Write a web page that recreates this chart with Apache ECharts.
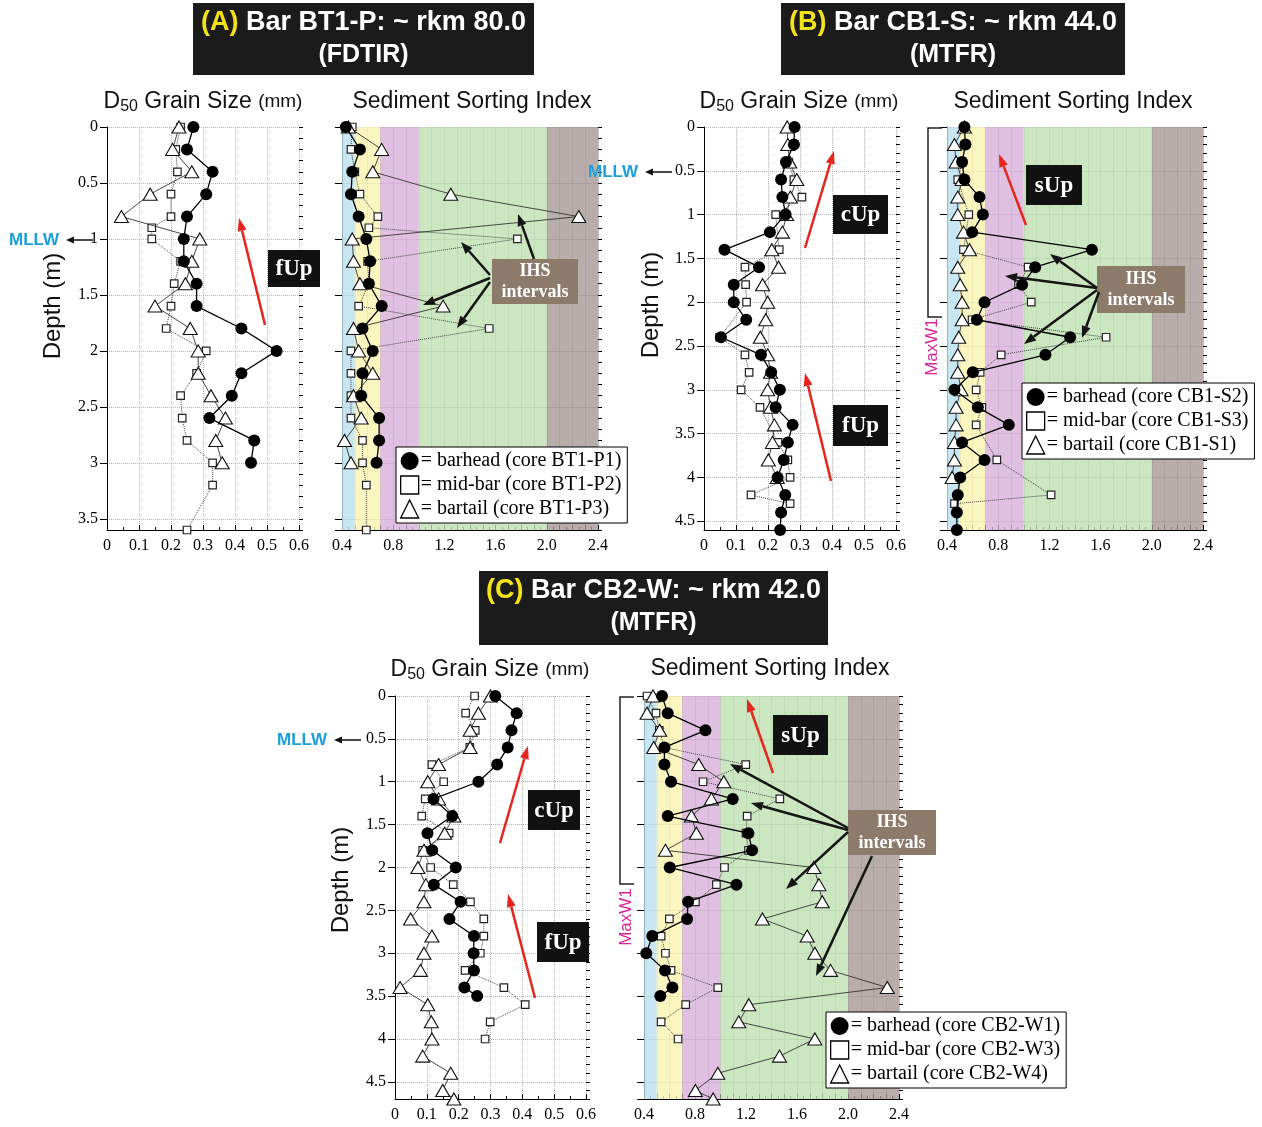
<!DOCTYPE html>
<html><head><meta charset="utf-8">
<script src="https://cdn.jsdelivr.net/npm/echarts@6/dist/echarts.min.js"></script>
<style>html,body{margin:0;padding:0;background:#fff}#c{width:1262px;height:1127px}</style>
</head><body><div id="c"></div>
<script>
// ---------------- DATA ----------------
// Panel A : Bar BT1-P
const A_head_depth = [0,0.2,0.4,0.6,0.8,1.0,1.2,1.4,1.6,1.8,2.0,2.2,2.4,2.6,2.8,3.0];
const A_head_d50   = [0.27,0.25,0.33,0.31,0.25,0.24,0.24,0.28,0.28,0.42,0.53,0.42,0.39,0.32,0.46,0.45];
const A_head_sort  = [0.43,0.54,0.48,0.47,0.53,0.59,0.62,0.61,0.71,0.56,0.64,0.56,0.55,0.69,0.69,0.67];
const A_mid_depth  = [0,0.2,0.4,0.6,0.8,0.9,1.0,1.2,1.4,1.6,1.8,2.0,2.2,2.4,2.6,2.8,3.0,3.2,3.6];
const A_mid_d50    = [0.23,0.215,0.22,0.2,0.2,0.14,0.14,0.23,0.21,0.2,0.185,0.31,0.28,0.23,0.235,0.25,0.33,0.33,0.25];
const A_mid_sort   = [0.48,0.47,0.5,0.54,0.68,0.61,1.77,0.6,0.61,0.53,1.55,0.47,0.47,0.47,0.47,0.56,0.56,0.59,0.59];
const A_tail_depth = [0,0.2,0.4,0.6,0.8,1.0,1.2,1.4,1.6,1.8,2.0,2.2,2.4,2.6,2.8,3.0];
const A_tail_d50   = [0.225,0.205,0.265,0.135,0.045,0.29,0.265,0.245,0.15,0.26,0.285,0.285,0.325,0.37,0.34,0.36];
const A_tail_sort  = [0.45,0.71,0.64,1.25,2.25,0.48,0.49,0.54,1.19,0.49,0.53,0.64,0.49,0.55,0.42,0.47];

// Panel B : Bar CB1-S
const B_head_depth = [0,0.2,0.4,0.6,0.8,1.0,1.2,1.4,1.6,1.8,2.0,2.2,2.4,2.6,2.8,3.0,3.2,3.4,3.6,3.8,4.0,4.2,4.4,4.6];
const B_head_d50   = [0.283,0.281,0.256,0.241,0.245,0.255,0.206,0.064,0.172,0.093,0.093,0.132,0.053,0.178,0.21,0.237,0.224,0.277,0.262,0.249,0.23,0.254,0.241,0.238];
const B_head_sort  = [0.536,0.544,0.518,0.536,0.654,0.68,0.597,1.532,1.089,0.987,0.693,0.633,1.362,1.169,0.602,0.458,0.641,0.883,0.518,0.693,0.503,0.484,0.477,0.477];
const B_mid_depth_d50 = [0.4,0.6,0.8,1.0,1.4,1.6,1.8,2.0,2.4,2.6,2.8,3.0,3.2,3.6,3.8,4.0,4.2,4.3];
const B_mid_d50       = [0.265,0.281,0.306,0.224,0.235,0.128,0.13,0.133,0.049,0.128,0.141,0.116,0.175,0.231,0.262,0.269,0.147,0.269];
const B_mid_depth_sort = [0.4,0.6,1.0,1.4,1.6,1.8,2.0,2.2,2.4,2.6,2.8,3.0,3.2,3.4,3.8,4.2,4.3];
const B_mid_sort       = [0.518,0.484,0.57,0.529,1.034,0.959,1.058,0.596,1.643,0.823,0.659,0.628,0.672,0.628,0.789,1.213,0.458];
const B_tail_depth = [0,0.2,0.4,0.6,0.8,1.0,1.2,1.4,1.6,1.8,2.0,2.2,2.4,2.6,2.8,3.0,3.2,3.4,3.6,3.8,4.0];
const B_tail_d50   = [0.26,0.262,0.268,0.29,0.27,0.258,0.245,0.212,0.233,0.183,0.199,0.193,0.176,0.199,0.208,0.199,0.208,0.22,0.214,0.201,0.229];
const B_tail_sort  = [0.536,0.458,0.471,0.518,0.484,0.484,0.529,0.576,0.484,0.503,0.518,0.518,0.492,0.484,0.484,0.51,0.471,0.471,0.458,0.458,0.44];

// Panel C : Bar CB2-W
const C_head_depth = [0,0.2,0.4,0.6,0.8,1.0,1.2,1.4,1.6,1.8,2.0,2.2,2.4,2.6,2.8,3.0,3.2,3.4,3.5];
const C_head_d50   = [0.315,0.382,0.366,0.354,0.321,0.262,0.121,0.18,0.102,0.117,0.191,0.122,0.206,0.171,0.248,0.247,0.248,0.218,0.258];
const C_head_sort  = [0.541,0.586,0.882,0.56,0.56,0.612,1.096,0.586,1.219,1.248,0.602,1.125,0.746,0.738,0.465,0.418,0.565,0.623,0.528];
const C_mid_depth  = [0,0.2,0.4,0.6,0.8,1.0,1.2,1.4,1.6,1.8,2.0,2.2,2.4,2.6,2.8,3.0,3.2,3.4,3.6,3.8,4.0];
const C_mid_d50    = [0.25,0.222,0.252,0.235,0.116,0.153,0.095,0.084,0.17,0.087,0.112,0.183,0.237,0.279,0.279,0.268,0.22,0.342,0.409,0.299,0.283];
const C_mid_sort   = [0.424,0.494,0.52,0.56,1.198,0.863,1.465,1.209,1.2,1.22,1.031,0.968,0.803,0.599,0.534,0.568,0.612,0.979,0.727,0.534,0.667];
const C_tail_depth = [0,0.2,0.4,0.6,0.8,1.0,1.2,1.4,1.6,1.8,2.0,2.2,2.4,2.6,2.8,3.0,3.2,3.4,3.6,3.8,4.0,4.2,4.4,4.6,4.7];
const C_tail_d50   = [0.30,0.262,0.236,0.236,0.137,0.103,0.137,0.185,0.156,0.091,0.072,0.097,0.091,0.049,0.116,0.091,0.08,0.016,0.103,0.114,0.116,0.087,0.175,0.15,0.185];
const C_tail_sort  = [0.471,0.424,0.523,0.476,0.829,1.026,0.929,0.772,0.811,0.568,1.732,1.772,1.798,1.329,1.68,1.74,1.863,2.308,1.222,1.143,1.74,1.463,0.979,0.803,0.942];

const A_names = ['barhead (core BT1-P1)','mid-bar (core BT1-P2)','bartail (core BT1-P3)'];
const B_names = ['barhead (core CB1-S2)','mid-bar (core CB1-S3)','bartail (core CB1-S1)'];
const C_names = ['barhead (core CB2-W1)','mid-bar (core CB2-W3)','bartail (core CB2-W4)'];

// Sorting-class bands (sorting index limits)
const band_edges  = [0.4,0.5,0.7,1.0,2.0,2.4];
const band_colors = ['rgba(186,224,238,0.8)','rgba(250,243,176,0.8)','rgba(216,176,216,0.8)','rgba(190,224,176,0.8)','rgba(166,152,150,0.8)'];

const depth_max = [3.6,3.6,4.6,4.6,4.7,4.7];

// ---------------- LAYOUT ----------------
const grids = [
  {left:107, top:127, width:192, height:403},
  {left:342, top:127, width:256, height:403},
  {left:704, top:127, width:192, height:403},
  {left:947, top:127, width:256, height:403},
  {left:395, top:696, width:191, height:403},
  {left:644, top:696, width:255, height:403}
];
const SERIF = '"Liberation Serif", "Times New Roman", serif';
const SANS = '"Liberation Sans", Arial, sans-serif';

const xAxes = grids.map((g,i)=>{
  const grain = i%2===0;
  return {
    type:'value', gridIndex:i,
    min: grain?0:0.4, max: grain?0.6:2.4, interval:0.1,
    axisLine:{show:true,onZero:false,lineStyle:{color:'#000',width:1}},
    axisTick:{show:true,inside:true,length:5,lineStyle:{color:'#000'}},
    minorTick:{show:true,splitNumber:2,length:3,lineStyle:{color:'#000'}},
    splitLine:{show:true,lineStyle: grain ? {color:'#b5b5b5',type:'dotted',width:1} : {color:'#9a9a9a',type:'solid',width:0.6}},
    axisLabel:{fontFamily:SERIF,fontSize:16,color:'#000',margin:8,
      formatter: v=>{
        const r=Math.round(v*10);
        if(grain) return String(r/10);
        return (r%4===0)? (r/10).toFixed(1) : '';
      }}
  };
});
const yAxes = [];
grids.forEach((g,i)=>{
  const grain = i%2===0;
  yAxes.push({
    type:'value', gridIndex:i, inverse:true, min:0, max:depth_max[i], interval:0.5,
    axisLine:{show:true,onZero:false,lineStyle:{color:'#000',width:1}},
    axisTick:{show:true,length:7,lineStyle:{color:'#000'}},
    splitLine:{show:true,lineStyle: grain ? {color:'#b5b5b5',type:'dotted',width:1} : {color:'#9a9a9a',type:'solid',width:0.6}},
    axisLabel:{show:grain,showMaxLabel:false,fontFamily:SERIF,fontSize:16,color:'#000',margin:9,
      formatter: v=>{ const r=Math.round(v*10); return r%5===0 ? String(r/10) : ''; }}
  });
  yAxes.push({
    type:'value', gridIndex:i, inverse:true, min:0, max:depth_max[i], interval:0.1,
    axisLine:{show:false,onZero:false},
    axisTick:{show:true,length:4,lineStyle:{color:'#000'}},
    splitLine:{show:false}, axisLabel:{show:false}
  });
});

// ---------------- SERIES ----------------
const series = [];
function S(name, gi, depth, vals, kind){
  const base = {type:'line', name, xAxisIndex:gi, yAxisIndex:gi*2, silent:true, animation:false,
    showSymbol:true, symbolKeepAspect:true,
    data: depth.map((d,j)=>[vals[j], d])};
  if(kind==='head'){
    Object.assign(base,{z:6,symbol:'circle',symbolSize:12,
      itemStyle:{color:'#000',borderColor:'#000',borderWidth:0},
      lineStyle:{color:'#000',width:1.3}});
  } else if(kind==='mid'){
    Object.assign(base,{z:4,symbol:'rect',symbolSize:7.5,
      itemStyle:{color:'#fff',borderColor:'#222',borderWidth:1.2},
      lineStyle:{color:'#444',width:1,type:'dotted'}});
  } else {
    Object.assign(base,{z:5,symbol:'triangle',symbolSize:[14,12],
      itemStyle:{color:'#fff',borderColor:'#111',borderWidth:1.1},
      lineStyle:{color:'#333',width:0.9}});
  }
  series.push(base);
}
// bands
[1,3,5].forEach(gi=>{
  const areas = band_colors.map((c,k)=>[{xAxis:band_edges[k],itemStyle:{color:c}},{xAxis:band_edges[k+1]}]);
  series.push({type:'line', name:'bands'+gi, xAxisIndex:gi, yAxisIndex:gi*2, data:[], z:1, silent:true,
    markArea:{silent:true, data:areas}});
});
S(A_names[1],0,A_mid_depth,A_mid_d50,'mid');
S(A_names[2],0,A_tail_depth,A_tail_d50,'tail');
S(A_names[0],0,A_head_depth,A_head_d50,'head');
S(A_names[1],1,A_mid_depth,A_mid_sort,'mid');
S(A_names[2],1,A_tail_depth,A_tail_sort,'tail');
S(A_names[0],1,A_head_depth,A_head_sort,'head');

S(B_names[1],2,B_mid_depth_d50,B_mid_d50,'mid');
S(B_names[2],2,B_tail_depth,B_tail_d50,'tail');
S(B_names[0],2,B_head_depth,B_head_d50,'head');
S(B_names[1],3,B_mid_depth_sort,B_mid_sort,'mid');
S(B_names[2],3,B_tail_depth,B_tail_sort,'tail');
S(B_names[0],3,B_head_depth,B_head_sort,'head');

S(C_names[1],4,C_mid_depth,C_mid_d50,'mid');
S(C_names[2],4,C_tail_depth,C_tail_d50,'tail');
S(C_names[0],4,C_head_depth,C_head_d50,'head');
S(C_names[1],5,C_mid_depth,C_mid_sort,'mid');
S(C_names[2],5,C_tail_depth,C_tail_sort,'tail');
S(C_names[0],5,C_head_depth,C_head_sort,'head');

// ---------------- LEGENDS ----------------
function legend(names, left, top){
  return {show:true, orient:'vertical', left, top, selectedMode:false,
    backgroundColor:'#fff', borderColor:'#000', borderWidth:1, padding:[4,6,4,4], itemGap:4,
    itemWidth:18, itemHeight:18, formatter:'= {name}',
    textStyle:{fontFamily:SERIF,fontSize:20,color:'#000',padding:[0,0,0,-3]},
    data:[
      {name:names[0],icon:'circle',itemStyle:{color:'#000',borderWidth:0}},
      {name:names[1],icon:'rect',itemStyle:{color:'#fff',borderColor:'#000',borderWidth:1.3}},
      {name:names[2],icon:'triangle',itemStyle:{color:'#fff',borderColor:'#000',borderWidth:1.3}}
    ]};
}

// ---------------- ANNOTATIONS ----------------
const G = [];
const cv = document.createElement('canvas').getContext('2d');
function tw(font, s){ cv.font=font; return cv.measureText(s).width; }
function titleBox(x,y,w,h,letter,line1,line2){
  G.push({type:'rect',shape:{x,y,width:w,height:h},style:{fill:'#1b1b1b'}});
  const f='bold 27px '+SANS, f2='bold 25px '+SANS;
  const wl=tw(f,letter+' '), w1=tw(f,line1), tot=wl+w1;
  const sx=x+w/2-tot/2;
  G.push({type:'text',x:sx,y:y+20,style:{text:letter,fill:'#f2e21c',font:f,textAlign:'left',textVerticalAlign:'middle'}});
  G.push({type:'text',x:sx+wl,y:y+20,style:{text:line1,fill:'#fff',font:f,textAlign:'left',textVerticalAlign:'middle'}});
  G.push({type:'text',x:x+w/2,y:y+52,style:{text:line2,fill:'#fff',font:f2,textAlign:'center',textVerticalAlign:'middle'}});
}
function d50Header(cx,y){
  const parts=[['D','23px '+SANS,0],['50','16px '+SANS,5],[' Grain Size ','23px '+SANS,0],['(mm)','19px '+SANS,0]];
  let tot=0; parts.forEach(p=>tot+=tw(p[1],p[0]));
  let x=cx-tot/2;
  parts.forEach(p=>{G.push({type:'text',x,y:y+p[2],style:{text:p[0],font:p[1],fill:'#111',textAlign:'left',textVerticalAlign:'middle'}}); x+=tw(p[1],p[0]);});
}
function text(x,y,s,font,fill,align,rot){
  G.push({type:'text',x,y,rotation:rot||0,style:{text:s,font,fill,textAlign:align||'center',textVerticalAlign:'middle'}});
}
function arrow(x1,y1,x2,y2,color,w,hl,hw){
  const a=Math.atan2(y2-y1,x2-x1);
  const bx=x2-hl*Math.cos(a), by=y2-hl*Math.sin(a);
  const px=-Math.sin(a)*hw/2, py=Math.cos(a)*hw/2;
  G.push({type:'line',shape:{x1,y1,x2:bx,y2:by},style:{stroke:color,lineWidth:w}});
  G.push({type:'polygon',shape:{points:[[x2,y2],[bx+px,by+py],[bx-px,by-py]]},style:{fill:color}});
}
function blackLabel(x,y,w,h,s){
  G.push({type:'rect',shape:{x,y,width:w,height:h},style:{fill:'#111'}});
  text(x+w/2,y+h/2+1,s,'bold 23px '+SERIF,'#fff');
}
function ihs(x,y,w,h){
  G.push({type:'rect',shape:{x,y,width:w,height:h},style:{fill:'#8c7a6b'}});
  text(x+w/2,y+h/2-10,'IHS','bold 18px '+SERIF,'#fff');
  text(x+w/2,y+h/2+11,'intervals','bold 18px '+SERIF,'#fff');
}
function mllw(xr,y){
  text(xr-31,y,'MLLW','bold 17px '+SANS,'#1a9fd9');
  arrow(xr+28,y,xr+1,y,'#111',1.5,8,7);
}
function maxw(x,y1,y2,tx,ty){
  G.push({type:'polyline',shape:{points:[[x+14,y1],[x,y1],[x,y2],[x+14,y2]]},style:{stroke:'#222',lineWidth:1.5,fill:null}});
  text(tx,ty,'MaxW1','17px '+SANS,'#d9229a','center',Math.PI/2);
}
const RED='#e5261e', BLK='#141414';

titleBox(193,3,341,72,'(A)','Bar BT1-P: ~ rkm 80.0','(FDTIR)');
titleBox(781,3,344,72,'(B)','Bar CB1-S: ~ rkm 44.0','(MTFR)');
titleBox(479,571,349,74,'(C)','Bar CB2-W: ~ rkm 42.0','(MTFR)');

d50Header(203,102); text(472,102,'Sediment Sorting Index','23px '+SANS,'#111');
d50Header(799,102); text(1073,102,'Sediment Sorting Index','23px '+SANS,'#111');
d50Header(490,670); text(770,669,'Sediment Sorting Index','23px '+SANS,'#111');

text(53,306,'Depth (m)','24px '+SANS,'#111','center',Math.PI/2);
text(651,305,'Depth (m)','24px '+SANS,'#111','center',Math.PI/2);
text(341,880,'Depth (m)','24px '+SANS,'#111','center',Math.PI/2);

mllw(65,240); mllw(644,172); mllw(333,740);
maxw(928,128,317,932,347);
maxw(620,697,884,626,917);

// Panel A annotations
arrow(265,325,239,218,RED,2.5,13,9);
blackLabel(268,250,52,37,'fUp');
ihs(492,259,86,45);
arrow(534,259,518,214,BLK,2.5,12,9);
arrow(490,275,461,242,BLK,2.5,12,9);
arrow(490,278,423,305,BLK,2.5,12,9);
arrow(490,282,457,328,BLK,2.5,12,9);
// Panel B annotations
arrow(805,248,834,151,RED,2.5,13,9);
blackLabel(833,195,55,39,'cUp');
arrow(831,481,805,373,RED,2.5,13,9);
blackLabel(833,405,55,41,'fUp');
arrow(1026,225,999,154,RED,2.5,13,9);
blackLabel(1026,165,56,40,'sUp');
ihs(1097,266,88,47);
arrow(1097,288,1050,254,BLK,2.5,12,9);
arrow(1097,288,1005,276,BLK,2.5,12,9);
arrow(1097,290,1024,344,BLK,2.5,12,9);
arrow(1099,292,1082,338,BLK,2.5,12,9);
// Panel C annotations
arrow(500,843,528,746,RED,2.5,13,9);
blackLabel(528,790,52,40,'cUp');
arrow(535,998,508,894,RED,2.5,13,9);
blackLabel(537,922,52,40,'fUp');
arrow(773,773,747,699,RED,2.5,13,9);
blackLabel(773,715,55,40,'sUp');
ihs(848,810,88,45);
arrow(848,828,730,764,BLK,2.5,12,9);
arrow(848,830,751,803,BLK,2.5,12,9);
arrow(848,832,786,889,BLK,2.5,12,9);
arrow(872,856,816,976,BLK,2.5,12,9);

G.forEach(g=>{g.z=100; g.silent=true;});

const chart = echarts.init(document.getElementById('c'), null, {renderer:'canvas'});
chart.setOption({
  animation:false,
  backgroundColor:'#fff',
  grid: grids,
  xAxis: xAxes,
  yAxis: yAxes,
  legend:[legend(A_names,396,447), legend(B_names,1022,383), legend(C_names,826,1012)],
  series,
  graphic:{elements:G}
});
</script></body></html>
